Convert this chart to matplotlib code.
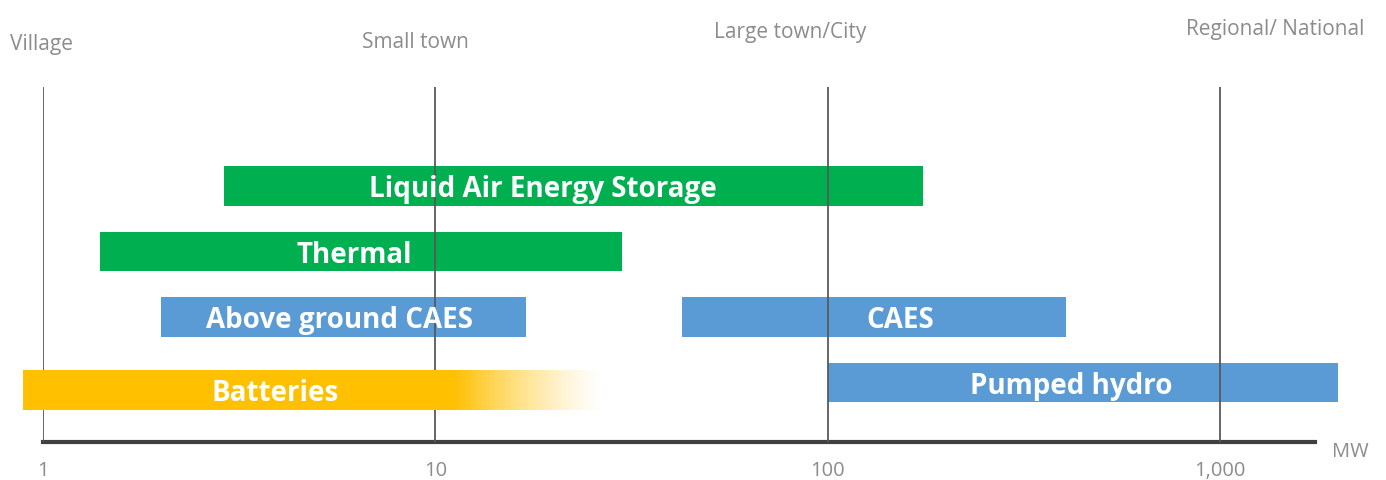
import numpy as np
import matplotlib.pyplot as plt
from matplotlib.ticker import FixedLocator, NullLocator

OUTPUT = "out.png"

# storage technologies: power range in MW
techs = ["Liquid Air Energy Storage", "Thermal", "Above ground CAES", "CAES",
         "Pumped hydro", "Batteries"]
low_mw = [2.9, 1.4, 2.0, 42.5, 100, 0.89]
high_mw = [175, 30, 17, 405, 2000, 11]
fade_to_mw = [None, None, None, None, None, 27]   # batteries fade out beyond the solid part
label_mw = [18.8, 6.2, 5.7, 153, 417, 3.9]

scale_ticks = [1, 10, 100, 1000]
scale_labels = ["1", "10", "100", "1,000"]
settlements = ["Village", "Small town", "Large town/City", "Regional/ National"]

GREEN = "#00b050"
BLUE = "#5b9bd5"
GOLD = "#ffc000"
colors = [GREEN, GREEN, BLUE, BLUE, BLUE, GOLD]
rows = [0, 1, 2, 2, 3, 3.12]
BAR_H = 0.61
GREY_TXT = "#8c8c8c"

fig = plt.figure(figsize=(13.86, 4.81), dpi=100)
ax = fig.add_axes([43 / 1386, 1 - 443 / 481, 1272 / 1386, 355 / 481])

ax.set_xscale("log")
ax.set_xlim(1, 1747)
ax.set_ylim(3.908, -1.511)

for name, lo, hi, fade, lx, c, r in zip(techs, low_mw, high_mw, fade_to_mw,
                                         label_mw, colors, rows):
    z = 3 if c == GOLD else 1
    ax.barh(r, hi - lo, left=lo, height=BAR_H, color=c, clip_on=False, zorder=z)
    if fade:
        # gradient tail: thin slices with decreasing opacity
        edges = np.geomspace(hi, fade, 41)
        alphas = np.linspace(1, 0, 40) ** 1.3
        for a, b, al in zip(edges[:-1], edges[1:], alphas):
            ax.barh(r, b - a, left=a, height=BAR_H, color=c, alpha=al,
                    linewidth=0, zorder=z)
    ax.text(lx, r + 0.04, name, ha="center", va="center", color="white",
            fontsize=20, fontweight="bold", family="Open Sans", zorder=5)

# decade markers
ax.xaxis.set_major_locator(FixedLocator(scale_ticks))
ax.xaxis.set_minor_locator(NullLocator())
ax.set_xticklabels(scale_labels)
ax.set_axisbelow(False)
ax.grid(axis="x", which="major", color="#595959", linewidth=1.3)
ax.tick_params(axis="x", length=0, pad=13, labelsize=14.5, labelcolor=GREY_TXT)
for lab in ax.get_xticklabels():
    lab.set_family("Open Sans")
ax.set_yticks([])

for s in ["top", "left", "right"]:
    ax.spines[s].set_visible(False)
ax.spines["bottom"].set_color("#404040")
ax.spines["bottom"].set_linewidth(3)

ax.text(1.0275, -0.025, "MW", transform=ax.transAxes, ha="center", va="center",
        fontsize=14.5, color=GREY_TXT, family="Open Sans")

# settlement sizes across the top
top_xy = [(41, 45), (415, 43), (790, 33), (1275, 30)]
for txt, (px, py) in zip(settlements, top_xy):
    fig.text(px / 1386, 1 - py / 481, txt, ha="center", va="center",
             fontsize=15, color=GREY_TXT, family="Open Sans")

fig.savefig(OUTPUT, dpi=100)
